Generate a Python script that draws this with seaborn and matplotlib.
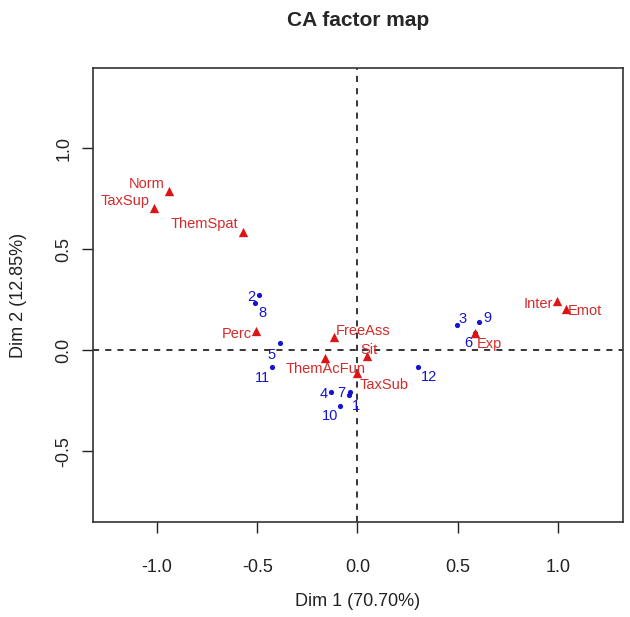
import numpy as np
import pandas as pd
import matplotlib
matplotlib.use('Agg')
import matplotlib.pyplot as plt
import seaborn as sns

# Row coordinates (blue dots)
row_labels = ['1', '2', '3', '4', '5', '6', '7', '8', '9', '10', '11', '12']
row_dim1 = [-0.042, -0.491, 0.496, -0.132, -0.387, 0.586, -0.035, -0.511, 0.606, -0.087, -0.426, 0.302]
row_dim2 = [-0.223, 0.272, 0.124, -0.208, 0.035, 0.084, -0.210, 0.233, 0.139, -0.277, -0.084, -0.084]

# Column coordinates (red triangles)
col_labels = ['Norm', 'TaxSup', 'ThemSpat', 'Perc', 'FreeAss', 'Sit', 'ThemAcFun',
              'TaxSub', 'Inter', 'Emot', 'Exp']
col_dim1 = [-0.940, -1.013, -0.573, -0.508, -0.116, 0.046, -0.161, -0.001, 0.995, 1.038, 0.586]
col_dim2 = [0.789, 0.701, 0.586, 0.094, 0.066, -0.030, -0.041, -0.112, 0.244, 0.201, 0.083]

x_ticks = [-1.0, -0.5, 0.0, 0.5, 1.0]
y_ticks = [-0.5, 0.0, 0.5, 1.0]

# label offsets in pixels (dx, dy) relative to the point
row_offsets = {'1': (7, -11), '2': (-8, -2), '3': (6, 6), '4': (-7, -2), '5': (-8, -12),
               '6': (-7, -10), '7': (-9, -1), '8': (7, -10), '9': (8, 4), '10': (-10, -10),
               '11': (-10, -11), '12': (11, -10)}
col_offsets = {'Norm': (-22, 7), 'TaxSup': (-29, 7), 'ThemSpat': (-38, 8), 'Perc': (-19, -3),
               'FreeAss': (29, 6), 'Sit': (2, 6), 'ThemAcFun': (0, -11), 'TaxSub': (27, -12),
               'Inter': (-19, -3), 'Emot': (19, -2), 'Exp': (14, -11)}

rows = pd.DataFrame({'label': row_labels, 'dim1': row_dim1, 'dim2': row_dim2})
cols = pd.DataFrame({'label': col_labels, 'dim1': col_dim1, 'dim2': col_dim2})

sns.set_style('white')
plt.rcParams['font.family'] = ['Liberation Sans', 'DejaVu Sans']

BLUE = '#1414d2'
RED = '#dc1414'
TXT_RED = '#d42a2a'

fig = plt.figure(figsize=(6.3, 6.17), dpi=100)
ax = fig.add_axes([93 / 630, 95 / 617, 530 / 630, 454 / 617])

ax.axhline(0, color='black', lw=1.1, ls=(0, (4, 4)), zorder=1)
ax.axvline(0, color='black', lw=1.1, ls=(0, (4, 4)), zorder=1)

sns.scatterplot(data=rows, x='dim1', y='dim2', ax=ax, color=BLUE, marker='o',
                s=14, linewidth=0, zorder=3)
sns.scatterplot(data=cols, x='dim1', y='dim2', ax=ax, color=RED, marker='^',
                s=45, linewidth=0, zorder=3)

for _, r in rows.iterrows():
    dx, dy = row_offsets[r['label']]
    ax.annotate(r['label'], (r['dim1'], r['dim2']), xytext=(dx, dy),
                textcoords='offset pixels', ha='center', va='center',
                color=BLUE, fontsize=10.5)
for _, r in cols.iterrows():
    dx, dy = col_offsets[r['label']]
    ax.annotate(r['label'], (r['dim1'], r['dim2']), xytext=(dx, dy),
                textcoords='offset pixels', ha='center', va='center',
                color=TXT_RED, fontsize=10.5)

ax.set_xlim(-1.319, 1.324)
ax.set_ylim(-0.851, 1.396)
ax.set_xticks(x_ticks)
ax.set_yticks(y_ticks)
ax.set_xticklabels([f'{t:.1f}' for t in x_ticks])
ax.set_yticklabels([f'{t:.1f}' for t in y_ticks], rotation=90, va='center')
ax.tick_params(direction='out', length=8, width=1, colors='#222222', labelsize=13,
               bottom=True, left=True)
ax.tick_params(axis='x', pad=19)
ax.tick_params(axis='y', pad=7)
for sp in ax.spines.values():
    sp.set_color('#333333')
    sp.set_linewidth(1.2)

ax.set_xlabel('Dim 1 (70.70%)', fontsize=13, labelpad=12, color='#222222')
ax.set_ylabel('Dim 2 (12.85%)', fontsize=13, labelpad=20, color='#222222')
ax.set_title('CA factor map', fontsize=15, fontweight='bold', pad=30)

fig.savefig('out.png', dpi=100)
